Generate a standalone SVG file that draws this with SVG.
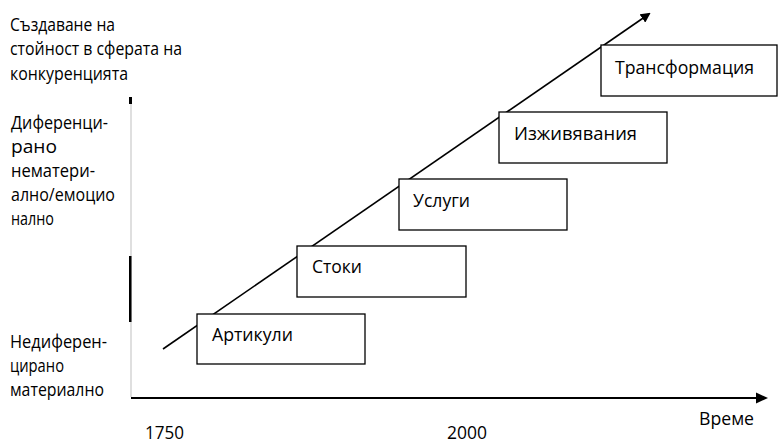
<svg xmlns="http://www.w3.org/2000/svg" width="778" height="443" viewBox="0 0 778 443">
<style>
text{font-family:"Open Sans","Noto Sans","DejaVu Sans",sans-serif;font-size:18px;fill:#000}
.box{fill:#fff;stroke:#000;stroke-width:1.3}
.ax{stroke:#000;stroke-width:2;fill:none}
.diag{stroke:#000;stroke-width:1.6;fill:none}
</style>
<defs>
<marker id="ah" markerWidth="10" markerHeight="10" refX="8" refY="5" orient="auto" markerUnits="userSpaceOnUse">
<path d="M0,0 L10,5 L0,10 Z" fill="#000"/>
</marker>
<marker id="ah2" markerWidth="12" markerHeight="12" refX="10" refY="6" orient="auto" markerUnits="userSpaceOnUse">
<path d="M0,0.5 L12,6 L0,11.5 Z" fill="#000"/>
</marker>
</defs>
<rect width="778" height="443" fill="#fff"/>
<g id="labels">
<text x="10" y="31" textLength="105" lengthAdjust="spacingAndGlyphs">Създаване на</text>
<text x="10" y="55" textLength="172" lengthAdjust="spacingAndGlyphs">стойност в сферата на</text>
<text x="10" y="80" textLength="118" lengthAdjust="spacingAndGlyphs">конкуренцията</text>
<text x="11" y="129" textLength="97" lengthAdjust="spacingAndGlyphs">Диференци-</text>
<text x="11" y="153" textLength="46" lengthAdjust="spacingAndGlyphs">рано</text>
<text x="11" y="177" textLength="84" lengthAdjust="spacingAndGlyphs">нематери-</text>
<text x="11" y="201" textLength="104" lengthAdjust="spacingAndGlyphs">ално/емоцио</text>
<text x="11" y="225" textLength="43" lengthAdjust="spacingAndGlyphs">нално</text>
<text x="10" y="348" textLength="97" lengthAdjust="spacingAndGlyphs">Недиферен-</text>
<text x="10" y="372" textLength="54" lengthAdjust="spacingAndGlyphs">цирано</text>
<text x="10" y="396" textLength="94" lengthAdjust="spacingAndGlyphs">материално</text>
<text x="145" y="439" textLength="39" lengthAdjust="spacingAndGlyphs">1750</text>
<text x="447" y="439" textLength="40" lengthAdjust="spacingAndGlyphs">2000</text>
<text x="699" y="425" textLength="55" lengthAdjust="spacingAndGlyphs">Време</text>
</g>
<g id="connectors">
<line x1="131" y1="97" x2="131" y2="397" stroke="#bfbfbf" stroke-width="1"/>
<rect x="129" y="97" width="3" height="7" fill="#000"/>
<rect x="129" y="256" width="2.5" height="66" fill="#000"/>
<line class="ax" x1="131" y1="398" x2="766" y2="398" marker-end="url(#ah2)"/>
<line class="diag" x1="163" y1="349" x2="649" y2="14" marker-end="url(#ah)"/>
</g>
<g id="node-artikuli">
<rect class="box" x="197" y="314" width="168" height="50"/>
<text x="212" y="341" textLength="81" lengthAdjust="spacingAndGlyphs">Артикули</text>
</g>
<g id="node-stoki">
<rect class="box" x="297" y="246" width="169" height="51"/>
<text x="312" y="273" textLength="50" lengthAdjust="spacingAndGlyphs">Стоки</text>
</g>
<g id="node-uslugi">
<rect class="box" x="399" y="179" width="168" height="51"/>
<text x="413" y="207" textLength="57" lengthAdjust="spacingAndGlyphs">Услуги</text>
</g>
<g id="node-izzhivyavaniya">
<rect class="box" x="499" y="112" width="168" height="51"/>
<text x="514" y="140" textLength="123" lengthAdjust="spacingAndGlyphs">Изживявания</text>
</g>
<g id="node-transformatsiya">
<rect class="box" x="601" y="45" width="176" height="51"/>
<text x="615" y="74" textLength="139" lengthAdjust="spacingAndGlyphs">Трансформация</text>
</g>
</svg>
